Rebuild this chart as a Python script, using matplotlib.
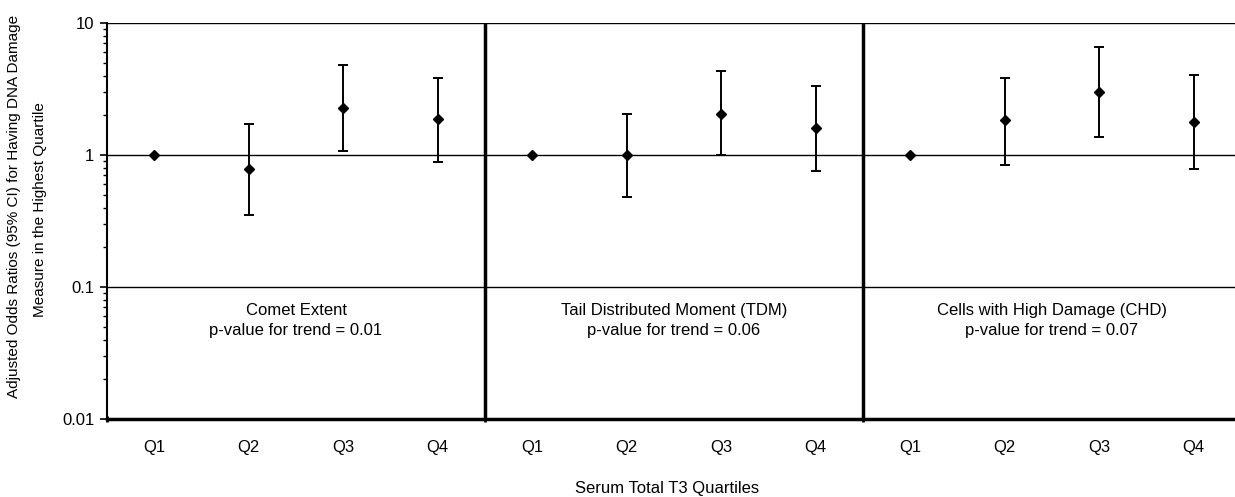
import numpy as np
import matplotlib
matplotlib.use('Agg')
import matplotlib.pyplot as plt
from matplotlib.ticker import LogLocator, NullFormatter

plt.rcParams['font.family'] = ['Liberation Sans', 'DejaVu Sans']

## data
quartiles = ['Q1', 'Q2', 'Q3', 'Q4']
panel_names = ['Comet Extent', 'Tail Distributed Moment (TDM)', 'Cells with High Damage (CHD)']
p_values = ['0.01', '0.06', '0.07']

comet_or = [1.0, 0.78, 2.26, 1.86]
comet_lo = [1.0, 0.35, 1.08, 0.88]
comet_hi = [1.0, 1.71, 4.81, 3.81]

tdm_or = [1.0, 1.0, 2.06, 1.60]
tdm_lo = [1.0, 0.48, 1.0, 0.76]
tdm_hi = [1.0, 2.03, 4.31, 3.31]

chd_or = [1.0, 1.83, 3.02, 1.78]
chd_lo = [1.0, 0.84, 1.36, 0.78]
chd_hi = [1.0, 3.81, 6.62, 4.06]

ors = [comet_or, tdm_or, chd_or]
los = [comet_lo, tdm_lo, chd_lo]
his = [comet_hi, tdm_hi, chd_hi]

fig = plt.figure(figsize=(12.35, 4.97), dpi=100)
ax = fig.add_axes([107/1235, 78/497, 1134/1235, 396/497])

for g in range(3):
    x = np.arange(4) + 0.5 + 4*g
    y = np.array(ors[g])
    lo = y - np.array(los[g])
    hi = np.array(his[g]) - y
    ax.errorbar(x[1:], y[1:], yerr=[lo[1:], hi[1:]], fmt='none', ecolor='black',
                elinewidth=1.4, capsize=3.5, capthick=1.4, zorder=3)
    ax.plot(x, y, linestyle='none', marker='D', markersize=5.5, color='black', zorder=4)
    ax.text(4*g + 2, 0.2626, panel_names[g], ha='center', va='baseline', fontsize=12,
            transform=ax.get_xaxis_transform())
    ax.text(4*g + 2, 0.212, 'p-value for trend = ' + p_values[g], ha='center', va='baseline',
            fontsize=12, transform=ax.get_xaxis_transform())

# horizontal lines at decades
for v in [0.1, 1, 10]:
    ax.axhline(v, color='black', lw=1.0, zorder=1)
# group separators
for s in [4, 8]:
    ax.axvline(s, color='black', lw=2.5, zorder=2)

ax.set_yscale('log')
ax.set_ylim(0.01, 10)
ax.set_xlim(0, 12)
ax.set_yticks([0.01, 0.1, 1, 10])
ax.set_yticklabels(['0.01', '0.1', '1', '10'], fontsize=12)
ax.yaxis.set_minor_locator(LogLocator(base=10, subs=np.arange(2, 10), numticks=10))
ax.yaxis.set_minor_formatter(NullFormatter())
ax.tick_params(axis='y', which='major', length=5, width=1.2, direction='out', pad=4)
ax.tick_params(axis='y', which='minor', length=3, width=1.0, direction='out')

ax.set_xticks([0, 4, 8, 12])
ax.set_xticklabels([])
ax.tick_params(axis='x', which='major', length=5, width=2, direction='inout')
ax.set_xticks(np.arange(12) + 0.5, minor=True)
ax.set_xticklabels(quartiles*3, minor=True, fontsize=12)
ax.tick_params(axis='x', which='minor', length=0, pad=15)

ax.spines['top'].set_visible(False)
ax.spines['right'].set_visible(False)
ax.spines['left'].set_linewidth(1.5)
ax.spines['bottom'].set_linewidth(2.5)

fig.text(667/1235, 1 - 488/497, 'Serum Total T3 Quartiles', ha='center', va='center', fontsize=12)
fig.text(14/1235, 1 - 206/497, 'Adjusted Odds Ratios (95% CI) for Having DNA Damage',
         ha='center', va='center', rotation=90, fontsize=11)
fig.text(40/1235, 1 - 210/497, 'Measure in the Highest Quartile',
         ha='center', va='center', rotation=90, fontsize=11)

plt.savefig('out.png', dpi=100)
